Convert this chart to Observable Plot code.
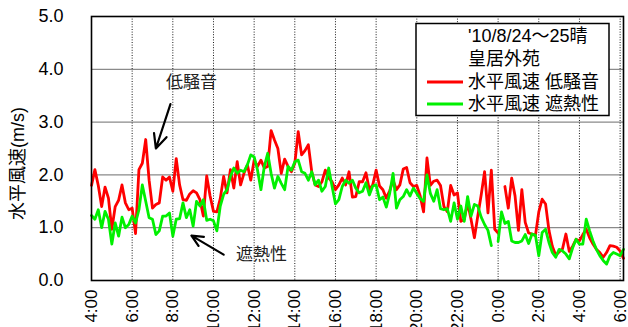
<!DOCTYPE html>
<html>
<head>
<meta charset="utf-8">
<script src="https://cdn.jsdelivr.net/npm/d3@7"></script>
<script src="https://cdn.jsdelivr.net/npm/@observablehq/plot@0.6"></script>
<style>
  body { margin: 0; background: #fff; }
  #chart { position: relative; width: 628px; height: 327px; overflow: hidden; }
</style>
</head>
<body>
<div id="chart"></div>
<script>
// 10-minute horizontal wind speed, Kokyo Gaien, 2010-08-24 04:00 to 08-25 06:10
const startTime = "2010-08-24T04:00:00Z";
const endTime = "2010-08-25T06:10:00Z";
const stepMinutes = 10;

// 低騒音 (low-noise pavement), m/s
const lowNoise = [
  1.8, 2.1, 1.8, 1.4, 1.77, 1.56, 0.97, 1.4, 1.52, 1.81,
  1.47, 1.34, 1.37, 0.89, 2.1, 2.22, 2.67, 1.9, 1.37, 1.44,
  1.47, 1.96, 1.9, 1.96, 1.69, 2.31, 1.81, 1.53, 1.52, 1.64,
  1.7, 1.66, 1.53, 1.22, 1.98, 1.6, 1.31, 1.3, 1.55, 1.97,
  1.66, 2.1, 1.75, 2.25, 1.81, 2.03, 2.19, 1.9, 2.28, 2.16,
  2.28, 2.13, 2.16, 2.84, 2.66, 2.5, 2.03, 2.3, 2.16, 2.06,
  2.22, 2.82, 2.38, 2.46, 2.57, 2.06, 1.81, 1.78, 1.87, 2.09,
  1.94, 1.87, 1.72, 1.81, 1.94, 1.81, 2.06, 1.58, 1.59, 1.87,
  1.87, 2.04, 1.72, 1.81, 2.09, 1.79, 1.72, 1.56, 1.7, 1.9,
  1.72, 1.81, 2.11, 2.14, 1.85, 1.78, 1.8, 1.6, 1.3, 2.32,
  1.8, 1.88, 1.9, 1.8, 1.4, 1.3, 1.8, 1.62, 1.66, 1.12,
  1.16, 1.47, 1.16, 0.81, 1.22, 1.62, 2.06, 1.28, 2.09, 0.97,
  0.9, null, 1.78, 1.37, 1.94, 1.6, 0.95, 1.72, 1.1, 0.9,
  0.88, 0.85, 1.3, 1.54, 1.45, 0.95, 0.65, 0.48, 0.54, 0.6,
  0.88, 0.55, 0.65, 0.78, 0.75, 0.87, 0.97, 0.81, 0.69, 0.59,
  0.53, 0.44, 0.53, 0.66, 0.65, 0.63, 0.56, 0.42
];

// 遮熱性 (heat-shielding pavement), m/s
const heatShield = [
  1.23, 1.16, 1.34, 1.0, 1.31, 1.16, 0.69, 1.09, 0.84, 1.2,
  1.0, 1.06, 1.22, 1.09, 1.34, 1.81, 1.5, 1.19, 1.16, 0.87,
  0.94, 1.22, 1.22, 1.28, 0.84, 1.16, 1.17, 1.47, 1.19, 1.34,
  1.03, 1.5, 1.41, 1.53, 1.14, 1.16, 1.13, 0.94, 1.41, 1.63,
  1.72, 1.97, 2.13, 2.03, 2.09, 2.06, 2.19, 2.38, 2.34, 2.09,
  1.72, 2.16, 2.41, 2.03, 1.75, 1.97, 1.84, 1.72, 2.16, 2.09,
  2.25, 2.28, 2.06, 2.03, 1.9, 2.06, 1.81, 1.9, 1.69, 1.78,
  2.13, 1.78, 1.45, 1.53, 1.78, 1.9, 1.84, 1.9, 1.75, 1.66,
  1.69, 1.85, 1.62, 1.79, 1.81, 1.53, 1.58, 1.39, 1.65, 2.03,
  1.37, 1.53, 1.59, 1.72, 1.6, 1.75, 1.65, 1.55, 1.5, 2.0,
  1.65, 1.5, 1.72, 1.36, 1.34, 1.36, 1.12, 1.47, 1.16, 1.41,
  1.12, 1.59, 1.22, 1.44, 1.41, 1.2, 1.06, 0.95, 0.66, null,
  0.74, 1.3, 1.08, 1.12, 0.75, 0.72, 0.72, 0.75, 0.87, 0.7,
  0.88, 0.86, 0.47, 0.91, 0.97, 0.72, 0.53, 0.44, 0.59, 0.56,
  0.5, 0.41, 0.62, 0.78, 0.69, 0.69, 1.16, 0.94, 0.75, 0.59,
  0.47, 0.38, 0.31, 0.47, 0.53, 0.5, 0.47, 0.59
];

const seriesNames = ["水平風速 低騒音", "水平風速 遮熱性"];
const seriesColors = ["#ff0000", "#00f000"];
const legendHeader = ["'10/8/24～25晴", "皇居外苑"];
const yLabel = "水平風速(m/s)";
const yTicks = [0, 1, 2, 3, 4, 5];
const yGridValues = [1, 2, 3, 4];

// callouts: label position and arrow from (x1,y1) to (x2,y2), in data units
const annotations = [
  {text: "低騒音", tx: "2010-08-24T08:55:00Z", ty: 3.74, x1: "2010-08-24T07:53:00Z", y1: 3.34, x2: "2010-08-24T07:10:00Z", y2: 2.5},
  {text: "遮熱性", tx: "2010-08-24T12:22:00Z", ty: 0.49, x1: "2010-08-24T10:30:00Z", y1: 0.49, x2: "2010-08-24T08:55:00Z", y2: 0.85}
].map(d => ({...d, tx: new Date(d.tx), x1: new Date(d.x1), x2: new Date(d.x2)}));

const t0 = Date.parse(startTime);
const timeAt = i => new Date(t0 + i * stepMinutes * 60000);
const redRows = lowNoise.map((v, i) => ({t: timeAt(i), v}));
const greenRows = heatShield.map((v, i) => ({t: timeAt(i), v}));

const xDomain = [new Date(startTime), new Date(endTime)];
const xTicks = d3.utcHour.every(2).range(xDomain[0], xDomain[1]);

const fontStack = "'Liberation Sans', 'Noto Sans CJK JP', sans-serif";

const plot = Plot.plot({
  width: 628,
  height: 327,
  marginLeft: 91,
  marginRight: 5,
  marginTop: 16,
  marginBottom: 47,
  style: {fontFamily: fontStack, fontSize: "17px", color: "#000", background: "transparent", overflow: "visible"},
  x: {type: "utc", domain: xDomain},
  y: {domain: [0, 5]},
  marks: [
    Plot.gridY(yGridValues, {stroke: "#8a8a8a", strokeOpacity: 1, strokeWidth: 1.2}),
    Plot.gridX(xTicks, {stroke: "#000", strokeOpacity: 0.9, strokeWidth: 1, strokeDasharray: "1,1.6"}),
    Plot.axisY(yTicks, {
      tickSize: 0, tickPadding: 28, fontSize: 18,
      tickFormat: d => d.toFixed(1), label: null
    }),
    Plot.axisX(xTicks, {
      tickSize: 0, tickPadding: 9, tickRotate: -90,
      tickFormat: d3.utcFormat("%-H:%M"), label: null
    }),
    Plot.text([yLabel], {
      text: d => d, frameAnchor: "left", textAnchor: "middle", lineAnchor: "middle",
      rotate: -90, dx: -73, dy: 15, fontSize: 18, fill: "#000"
    }),
    Plot.line(redRows, {x: "t", y: "v", stroke: seriesColors[0], strokeWidth: 2.8, curve: "linear"}),
    Plot.line(greenRows, {x: "t", y: "v", stroke: seriesColors[1], strokeWidth: 2.8, curve: "linear"}),
    Plot.frame({stroke: "#000", strokeWidth: 1.6}),
    Plot.text(annotations, {x: "tx", y: "ty", text: "text", fontSize: 17, fill: "#222"}),
    Plot.arrow(annotations, {x1: "x1", y1: "y1", x2: "x2", y2: "y2", stroke: "#000", strokeWidth: 2.2, headLength: 11, headAngle: 50})
  ]
});

document.getElementById("chart").appendChild(plot);

// legend box in the upper right of the plot area
const svg = d3.select(plot);
const lg = svg.append("g")
  .attr("font-family", fontStack).attr("font-size", 18).attr("text-anchor", "start");
lg.append("rect")
  .attr("x", 416).attr("y", 23.5).attr("width", 193).attr("height", 92)
  .attr("fill", "#fff").attr("stroke", "#000").attr("stroke-width", 1.5);
const lineY = [36, 59, 82, 104];
legendHeader.forEach((t, k) => {
  lg.append("text").attr("x", 468).attr("y", lineY[k]).attr("dy", "0.36em").attr("fill", "#000").text(t);
});
seriesNames.forEach((t, k) => {
  const y = lineY[k + 2];
  lg.append("line").attr("x1", 427).attr("x2", 463).attr("y1", y).attr("y2", y)
    .attr("stroke", seriesColors[k]).attr("stroke-width", 2.8);
  lg.append("text").attr("x", 468).attr("y", y).attr("dy", "0.36em").attr("fill", "#000").text(t);
});
</script>
</body>
</html>
